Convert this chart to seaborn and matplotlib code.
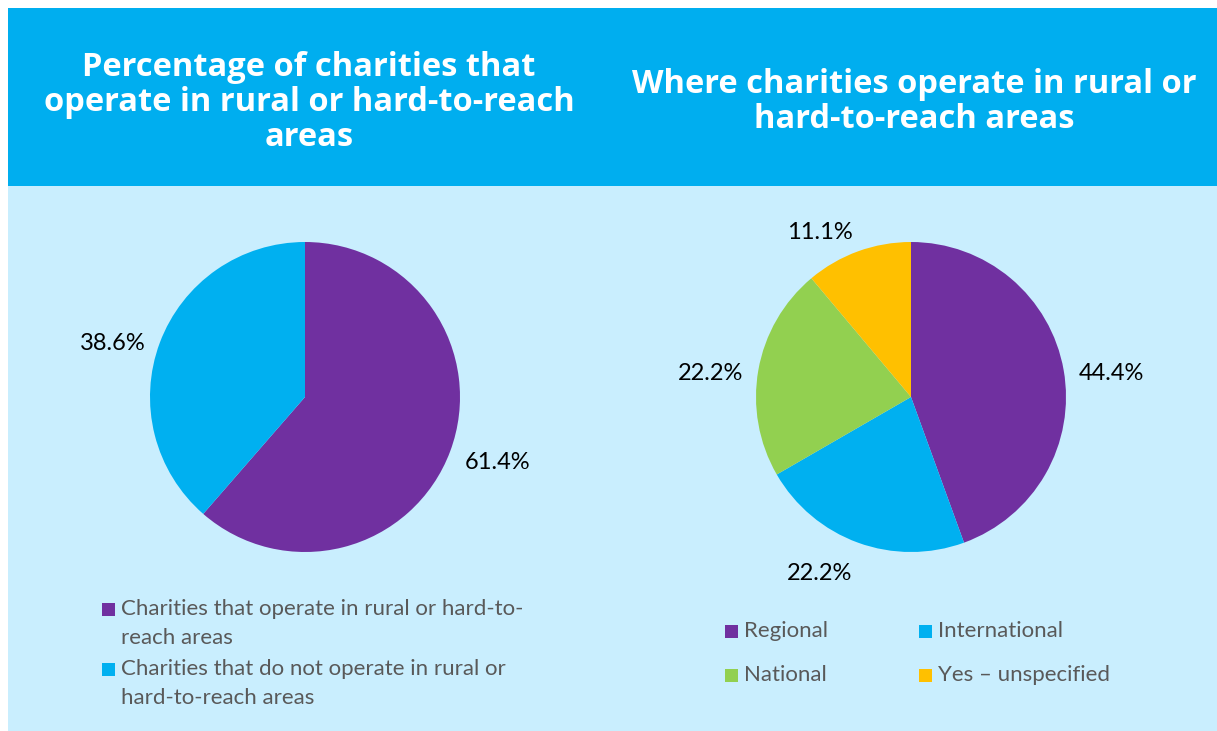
import numpy as np
import matplotlib
matplotlib.use("Agg")
import matplotlib.pyplot as plt
from matplotlib.patches import Rectangle
import seaborn as sns

sns.set_style("white")
plt.rcParams["font.family"] = ["Lato", "DejaVu Sans"]

# --- data -------------------------------------------------------------
left_title = "Percentage of charities that\noperate in rural or hard-to-reach\nareas"
left_labels = ["Charities that operate in rural or hard-to-\nreach areas",
               "Charities that do not operate in rural or\nhard-to-reach areas"]
left_values = [61.4, 38.6]

right_title = "Where charities operate in rural or\nhard-to-reach areas"
right_labels = ["Regional", "International", "National", "Yes \u2013 unspecified"]
right_values = [44.4, 22.2, 22.2, 11.1]

palette = sns.color_palette(["#7030A0", "#00B0F0", "#92D050", "#FFC000"])

BANNER = "#00AEEF"
PANEL = "#C9EEFE"
LEGEND_TXT = "#595959"

W, H = 1217, 731
fig = plt.figure(figsize=(W / 100, H / 100), dpi=100)
fig.patch.set_facecolor("white")


def fx(px):
    return px / W


def fy(py):
    return 1 - py / H


def fig_rect(x0, y0, x1, y1, color, z=-10):
    """Rectangle given in pixel coordinates (origin top-left)."""
    fig.patches.append(Rectangle((fx(x0), fy(y1)), fx(x1 - x0), (y1 - y0) / H,
                                 transform=fig.transFigure, facecolor=color,
                                 edgecolor="none", zorder=z))


# background panels
fig_rect(8, 8, W, 186, BANNER)
fig_rect(8, 186, W, H, PANEL)

title_kw = dict(color="white", fontsize=23.5, fontweight="bold", ha="center", va="center",
                linespacing=1.08, family=["Open Sans", "DejaVu Sans"])
fig.text(fx(309), fy(102.5), left_title, **title_kw)
fig.text(fx(914), fy(102), right_title, **title_kw)


def draw_pie(cx, cy, r, values, colors):
    ax = fig.add_axes([fx(cx - r), fy(cy + r), fx(2 * r), 2 * r / H])
    ax.patch.set_alpha(0)
    wedges, _ = ax.pie(values, colors=colors, startangle=90, counterclock=False,
                       wedgeprops=dict(linewidth=0))
    ax.set_xlim(-1, 1)
    ax.set_ylim(-1, 1)
    ax.set_aspect("equal")
    ax.axis("off")
    for w, v in zip(wedges, values):
        mid = np.deg2rad((w.theta1 + w.theta2) / 2)
        c, s = np.cos(mid), np.sin(mid)
        ha = "left" if c > 0.3 else ("right" if c < -0.3 else "center")
        va = "bottom" if s > 0.5 else ("top" if s < -0.5 else "center")
        d = 1.1
        ax.text(d * c, d * s - 0.04, f"{v:.1f}%", ha=ha, va=va, fontsize=17,
                color="black", clip_on=False)
    return ax


draw_pie(305, 397, 155, left_values, palette[:2])
draw_pie(911, 397, 155, right_values, palette[:4])

# legends
SQ = 13
legend_kw = dict(fontsize=16, color=LEGEND_TXT, va="center", ha="left")
for (x, y), lab, col in zip([(102, 609), (102, 669)], left_labels, palette[:2]):
    fig_rect(x, y - SQ / 2, x + SQ, y + SQ / 2, col, z=1)
    for i, ln in enumerate(lab.split("\n")):
        fig.text(fx(x + 19), fy(y + i * 29.5), ln, **legend_kw)

for (x, y), lab, col in zip([(725, 631), (919, 631), (725, 675), (919, 675)],
                            right_labels, palette[:4]):
    fig_rect(x, y - SQ / 2, x + SQ, y + SQ / 2, col, z=1)
    fig.text(fx(x + 19), fy(y), lab, **legend_kw)

fig.savefig("out.png", dpi=100, facecolor=fig.get_facecolor())
